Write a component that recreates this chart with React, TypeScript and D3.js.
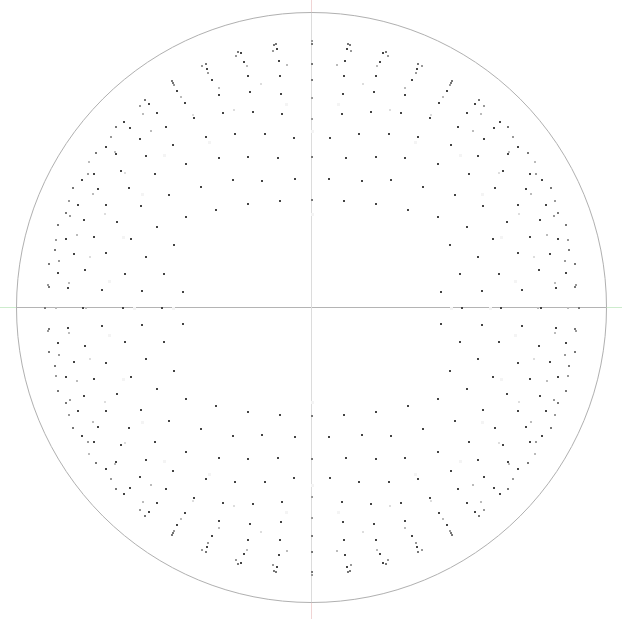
import { useEffect, useRef } from 'react';
import * as d3 from 'd3';

// One quadrant of the pattern (upper right), offsets from the centre in chart units.
// The pattern repeats mirrored in the other three quadrants.
const quadX = [
  36, 38, 35, 39, 33, 25, 32, 51, 31, 26, 30, 18, 34,
  71, 74, 76, 68, 65, 64, 62, 78, 59, 47, 77, 64,
  106, 110, 105, 104, 100, 93, 93, 89, 106, 103, 93,
  140, 139, 138, 135, 131, 127, 119, 118, 146, 139,
  167, 163, 172, 155, 169, 188, 182, 196, 161, 172, 201, 206, 216, 197, 196, 166, 148,
  223, 191, 187, 157, 218, 224, 230, 183, 214, 239, 219, 170, 243, 171, 206, 234,
  207, 246, 242, 195, 228, 254, 235, 189, 181, 218, 246, 256, 257, 206, 238, 222,
  166, 253, 263, 148, 187, 227, 254, 203, 243, 264, 263, 244, 210, 170, 129,
  126, 17, 50, 79, 111, 143, 32, 64, 96, 126, 138, 155,
  0, 0, 0, 0, 0, 0, 0, 0, 0, 0,
  150, 189, 139, 178, 226, 229, 256, 267,
];

const quadY = [
  264, 263, 259, 257, 247, 243, 232, 224, 214, 204, 194, 170, 150,
  255, 256, 252, 246, 242, 232, 216, 198, 196, 174, 174, 151,
  244, 242, 239, 235, 228, 220, 213, 195, 171, 166, 150,
  227, 225, 223, 217, 211, 205, 193, 190, 181, 163,
  208, 204, 202, 195, 194, 186, 180, 181, 177, 169, 171, 161, 155, 156, 154, 152, 153,
  146, 137, 135, 134, 134, 134, 128, 120, 119, 120, 114, 114, 107, 102, 103, 103,
  94, 95, 92, 86, 88, 83, 73, 71, 69, 71, 69, 68, 58, 55, 54, 51,
  51, 47, 44, 34, 34, 38, 35, 27, 25, 23, 21, 20, 18, 17, 16,
  144, 129, 127, 128, 121, 113, 107, 104, 98, 91, 63, 81,
  267, 264, 244, 228, 210, 189, 177, 151, 108, 94,
  0, 0, 0, 0, 0, 0, 0, 0,
];

// 0 = darkest ... 5 = almost white
const quadShade = [
  1, 1, 0, 2, 0, 3, 0, 4, 0, 5, 0, 0, 0,
  0, 1, 2, 0, 3, 0, 0, 4, 0, 0, 0, 0,
  1, 2, 0, 2, 0, 3, 0, 0, 0, 5, 0,
  1, 1, 2, 0, 3, 0, 4, 0, 0, 0,
  1, 0, 2, 0, 3, 0, 0, 1, 3, 0, 2, 0, 1, 3, 0, 0, 5,
  3, 0, 4, 0, 0, 2, 0, 0, 0, 1, 3, 5, 2, 0, 0, 0,
  4, 1, 2, 0, 0, 1, 3, 5, 0, 0, 0, 2, 1, 0, 0, 4,
  0, 2, 1, 0, 0, 0, 0, 5, 3, 2, 1, 0, 0, 0, 0,
  0, 0, 0, 0, 0, 0, 0, 0, 0, 0, 0, 0,
  2, 1, 1, 1, 2, 2, 5, 1, 1, 5,
  0, 0, 5, 5, 3, 0, 3, 1,
];

const shadeColors = ['#444444', '#777777', '#999999', '#bbbbbb', '#dddddd', '#f4f4f4'];

const reflections = [
  [1, 1],
  [-1, 1],
  [1, -1],
  [-1, -1],
];

const outerValue = 295;

const App = () => {
  const svgRef = useRef<SVGSVGElement>(null);

  useEffect(() => {
    const width = 622;
    const height = 619;
    const cx = 311;
    const cy = 307;
    const radius = 295;

    const svg = d3.select(svgRef.current);
    svg.selectAll('*').remove();

    const xScale = d3.scaleLinear().domain([-outerValue, outerValue]).range([cx - radius, cx + radius]);
    const yScale = d3.scaleLinear().domain([-outerValue, outerValue]).range([cy + radius, cy - radius]);

    // axis lines, full length (coloured beyond the circle)
    svg.append('line')
      .attr('x1', 0).attr('x2', width)
      .attr('y1', yScale(0) + 0.5).attr('y2', yScale(0) + 0.5)
      .attr('stroke', '#cdeccd');
    svg.append('line')
      .attr('x1', xScale(0) + 0.5).attr('x2', xScale(0) + 0.5)
      .attr('y1', 0).attr('y2', height)
      .attr('stroke', '#f0d4d4');

    // inside the circle
    svg.append('line')
      .attr('x1', xScale(-outerValue)).attr('x2', xScale(outerValue))
      .attr('y1', yScale(0) + 0.5).attr('y2', yScale(0) + 0.5)
      .attr('stroke', '#b4b4b4');
    svg.append('line')
      .attr('x1', xScale(0) + 0.5).attr('x2', xScale(0) + 0.5)
      .attr('y1', yScale(outerValue)).attr('y2', yScale(-outerValue))
      .attr('stroke', '#dcdcdc');

    svg.append('circle')
      .attr('cx', xScale(0) + 0.5)
      .attr('cy', yScale(0) + 0.5)
      .attr('r', xScale(outerValue) - xScale(0))
      .attr('fill', 'none')
      .attr('stroke', '#b0b0b0');

    const points: { x: number; y: number; s: number }[] = [];
    reflections.forEach(([sx, sy]) => {
      quadX.forEach((v, i) => {
        points.push({ x: v * sx, y: quadY[i] * sy, s: quadShade[i] });
      });
    });

    // light dots first so dark ones sit on top
    points.sort((a, b) => b.s - a.s);

    svg.append('g')
      .attr('shape-rendering', 'crispEdges')
      .selectAll('rect')
      .data(points)
      .enter()
      .append('rect')
      .attr('x', d => xScale(d.x))
      .attr('y', d => yScale(d.y))
      .attr('width', d => (d.s === 5 ? 3 : 2))
      .attr('height', d => (d.s === 5 ? 3 : 2))
      .attr('fill', d => shadeColors[d.s]);
  }, []);

  return (
    <svg
      ref={svgRef}
      width={622}
      height={619}
      style={{ position: 'absolute', left: 0, top: 0, background: '#ffffff' }}
    />
  );
};

export default App;
